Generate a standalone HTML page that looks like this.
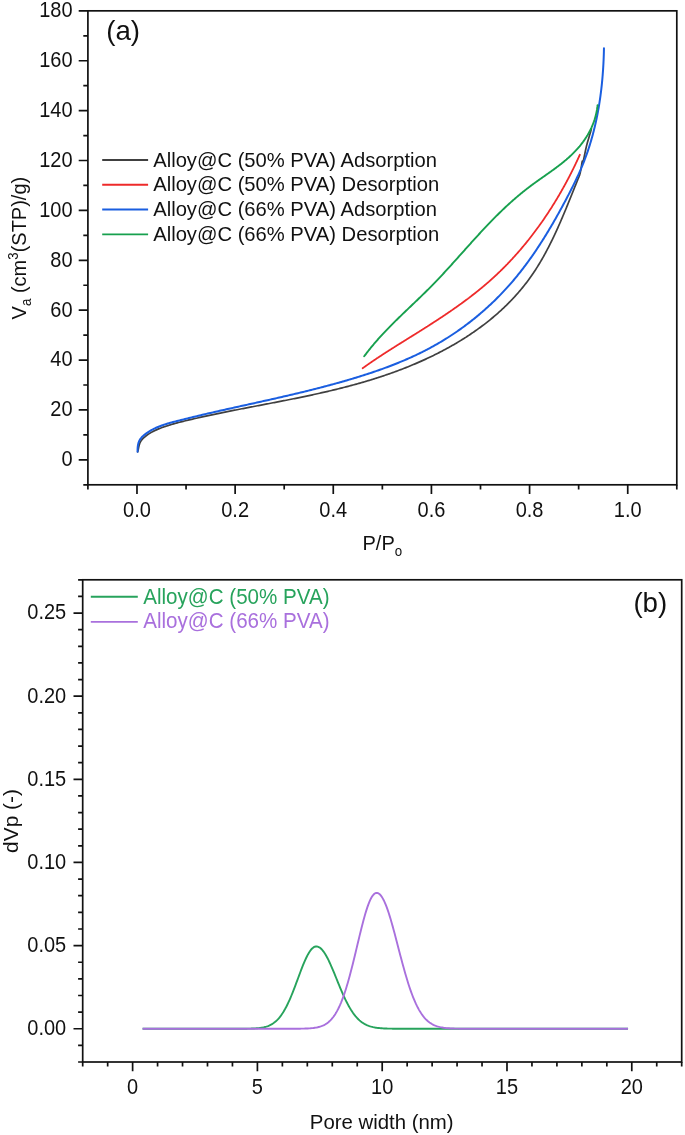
<!DOCTYPE html><html><head><meta charset="utf-8"><style>html,body{margin:0;padding:0;background:#fff;}svg{display:block;will-change:transform;}</style></head><body>
<svg width="685" height="1135" viewBox="0 0 685 1135" font-family='"Liberation Sans", sans-serif'>
<rect width="685" height="1135" fill="#fff"/>
<rect x="87.9" y="10.84" width="588.90" height="473.96" fill="none" stroke="#111" stroke-width="1.7"/>
<path d="M136.98,484.8 V494.00 M235.13,484.8 V494.00 M333.27,484.8 V494.00 M431.42,484.8 V494.00 M529.58,484.8 V494.00 M627.73,484.8 V494.00 M87.90,484.8 V489.40 M186.05,484.8 V489.40 M284.20,484.8 V489.40 M382.35,484.8 V489.40 M480.50,484.8 V489.40 M578.65,484.8 V489.40 M676.80,484.8 V489.40 M87.9,459.85 H78.70 M87.9,409.96 H78.70 M87.9,360.07 H78.70 M87.9,310.18 H78.70 M87.9,260.29 H78.70 M87.9,210.40 H78.70 M87.9,160.51 H78.70 M87.9,110.62 H78.70 M87.9,60.73 H78.70 M87.9,10.84 H78.70 M87.9,484.80 H83.30 M87.9,434.91 H83.30 M87.9,385.02 H83.30 M87.9,335.13 H83.30 M87.9,285.24 H83.30 M87.9,235.35 H83.30 M87.9,185.46 H83.30 M87.9,135.57 H83.30 M87.9,85.68 H83.30 M87.9,35.79 H83.30" stroke="#111" stroke-width="1.7" fill="none"/>
<text transform="translate(136.98,516.60) scale(1,1.07)" font-size="20" text-anchor="middle" fill="#111">0.0</text>
<text transform="translate(235.13,516.60) scale(1,1.07)" font-size="20" text-anchor="middle" fill="#111">0.2</text>
<text transform="translate(333.27,516.60) scale(1,1.07)" font-size="20" text-anchor="middle" fill="#111">0.4</text>
<text transform="translate(431.42,516.60) scale(1,1.07)" font-size="20" text-anchor="middle" fill="#111">0.6</text>
<text transform="translate(529.58,516.60) scale(1,1.07)" font-size="20" text-anchor="middle" fill="#111">0.8</text>
<text transform="translate(627.73,516.60) scale(1,1.07)" font-size="20" text-anchor="middle" fill="#111">1.0</text>
<text transform="translate(72.60,466.25) scale(1,1.07)" font-size="20" text-anchor="end" fill="#111">0</text>
<text transform="translate(72.60,416.36) scale(1,1.07)" font-size="20" text-anchor="end" fill="#111">20</text>
<text transform="translate(72.60,366.47) scale(1,1.07)" font-size="20" text-anchor="end" fill="#111">40</text>
<text transform="translate(72.60,316.58) scale(1,1.07)" font-size="20" text-anchor="end" fill="#111">60</text>
<text transform="translate(72.60,266.69) scale(1,1.07)" font-size="20" text-anchor="end" fill="#111">80</text>
<text transform="translate(72.60,216.80) scale(1,1.07)" font-size="20" text-anchor="end" fill="#111">100</text>
<text transform="translate(72.60,166.91) scale(1,1.07)" font-size="20" text-anchor="end" fill="#111">120</text>
<text transform="translate(72.60,117.02) scale(1,1.07)" font-size="20" text-anchor="end" fill="#111">140</text>
<text transform="translate(72.60,67.13) scale(1,1.07)" font-size="20" text-anchor="end" fill="#111">160</text>
<text transform="translate(72.60,17.24) scale(1,1.07)" font-size="20" text-anchor="end" fill="#111">180</text>
<path d="M137.69,451.79 L138.00,450.65 L138.26,449.47 L138.50,448.25 L138.74,447.03 L139.01,445.81 L139.32,444.61 L139.71,443.44 L140.19,442.33 L140.78,441.27 L141.47,440.28 L142.24,439.34 L143.08,438.45 L143.97,437.60 L144.90,436.79 L145.86,436.01 L146.83,435.27 L147.83,434.56 L148.84,433.88 L149.87,433.23 L150.92,432.61 L151.98,432.01 L153.06,431.43 L154.15,430.88 L155.25,430.35 L156.36,429.85 L157.49,429.36 L158.62,428.89 L159.76,428.43 L160.91,428.00 L162.06,427.57 L163.22,427.16 L164.38,426.76 L165.55,426.37 L166.72,425.99 L167.89,425.61 L169.06,425.24 L170.23,424.89 L171.41,424.53 L172.59,424.19 L173.76,423.85 L174.94,423.52 L176.13,423.19 L177.31,422.87 L178.49,422.55 L179.67,422.24 L180.86,421.93 L182.05,421.63 L183.23,421.33 L184.42,421.04 L185.61,420.75 L186.80,420.46 L187.99,420.17 L189.18,419.89 L190.37,419.61 L191.56,419.33 L192.75,419.05 L193.94,418.78 L195.14,418.51 L196.33,418.23 L197.52,417.96 L198.72,417.69 L199.91,417.43 L201.10,417.16 L202.30,416.90 L203.49,416.63 L204.69,416.37 L205.88,416.11 L207.08,415.85 L208.27,415.59 L209.47,415.34 L210.66,415.08 L211.86,414.83 L213.06,414.58 L214.25,414.32 L215.45,414.07 L216.65,413.82 L217.84,413.58 L219.04,413.33 L220.24,413.08 L221.44,412.84 L222.63,412.59 L223.83,412.35 L225.03,412.11 L226.23,411.87 L227.43,411.62 L228.63,411.38 L229.83,411.15 L231.02,410.91 L232.22,410.67 L233.42,410.43 L234.62,410.20 L235.82,409.96 L237.02,409.72 L238.22,409.49 L239.42,409.26 L240.62,409.02 L241.82,408.79 L243.02,408.56 L244.22,408.32 L245.42,408.09 L246.62,407.86 L247.82,407.63 L249.02,407.40 L250.22,407.17 L251.42,406.94 L252.62,406.71 L253.83,406.48 L255.03,406.25 L256.23,406.02 L257.43,405.79 L258.63,405.56 L259.83,405.33 L261.03,405.10 L262.23,404.87 L263.43,404.64 L264.63,404.41 L265.83,404.18 L267.03,403.95 L268.23,403.72 L269.43,403.49 L270.63,403.26 L271.83,403.03 L273.03,402.79 L274.23,402.56 L275.43,402.33 L276.63,402.10 L277.83,401.87 L279.03,401.63 L280.23,401.40 L281.43,401.16 L282.63,400.93 L283.82,400.69 L285.02,400.46 L286.22,400.22 L287.42,399.98 L288.62,399.75 L289.82,399.51 L291.01,399.27 L292.21,399.03 L293.41,398.79 L294.61,398.55 L295.80,398.30 L297.00,398.06 L298.20,397.81 L299.39,397.57 L300.59,397.32 L301.79,397.08 L302.98,396.83 L304.18,396.58 L305.37,396.33 L306.57,396.07 L307.76,395.82 L308.96,395.57 L310.15,395.31 L311.34,395.06 L312.54,394.80 L313.73,394.54 L314.92,394.28 L316.12,394.02 L317.31,393.75 L318.50,393.49 L319.69,393.22 L320.88,392.95 L322.07,392.68 L323.26,392.41 L324.45,392.14 L325.64,391.87 L326.83,391.59 L328.02,391.31 L329.21,391.04 L330.40,390.76 L331.59,390.47 L332.78,390.19 L333.96,389.90 L335.15,389.61 L336.34,389.32 L337.52,389.03 L338.71,388.74 L339.89,388.44 L341.08,388.15 L342.26,387.85 L343.44,387.54 L344.63,387.24 L345.81,386.94 L346.99,386.63 L348.17,386.32 L349.35,386.00 L350.54,385.69 L351.72,385.37 L352.89,385.05 L354.07,384.73 L355.25,384.41 L356.43,384.08 L357.61,383.75 L358.79,383.42 L359.96,383.09 L361.14,382.75 L362.31,382.41 L363.49,382.07 L364.66,381.73 L365.84,381.38 L367.01,381.03 L368.18,380.68 L369.35,380.33 L370.52,379.97 L371.69,379.61 L372.86,379.25 L374.03,378.88 L375.20,378.51 L376.37,378.14 L377.54,377.77 L378.70,377.39 L379.87,377.01 L381.04,376.63 L382.20,376.24 L383.36,375.85 L384.53,375.46 L385.69,375.06 L386.85,374.67 L388.01,374.26 L389.17,373.86 L390.33,373.45 L391.49,373.04 L392.65,372.62 L393.81,372.21 L394.97,371.78 L396.12,371.36 L397.28,370.93 L398.43,370.50 L399.58,370.07 L400.74,369.63 L401.89,369.19 L403.04,368.74 L404.19,368.29 L405.33,367.84 L406.48,367.38 L407.63,366.93 L408.77,366.46 L409.91,366.00 L411.06,365.53 L412.20,365.06 L413.33,364.58 L414.47,364.10 L415.61,363.62 L416.74,363.13 L417.88,362.64 L419.01,362.15 L420.14,361.65 L421.27,361.15 L422.39,360.64 L423.52,360.13 L424.64,359.62 L425.76,359.11 L426.88,358.59 L428.00,358.06 L429.11,357.54 L430.23,357.01 L431.34,356.47 L432.45,355.94 L433.56,355.40 L434.66,354.85 L435.77,354.30 L436.87,353.75 L437.97,353.19 L439.07,352.63 L440.16,352.07 L441.26,351.50 L442.35,350.93 L443.43,350.35 L444.52,349.77 L445.60,349.19 L446.69,348.60 L447.76,348.01 L448.84,347.42 L449.91,346.82 L450.98,346.22 L452.05,345.61 L453.12,345.00 L454.18,344.39 L455.24,343.77 L456.30,343.15 L457.35,342.52 L458.41,341.89 L459.45,341.26 L460.50,340.62 L461.54,339.98 L462.58,339.33 L463.62,338.68 L464.65,338.02 L465.69,337.37 L466.71,336.70 L467.74,336.04 L468.76,335.37 L469.78,334.69 L470.79,334.01 L471.81,333.33 L472.81,332.64 L473.82,331.95 L474.82,331.26 L475.82,330.56 L476.81,329.85 L477.81,329.14 L478.79,328.43 L479.78,327.71 L480.76,326.99 L481.73,326.27 L482.71,325.54 L483.68,324.81 L484.64,324.07 L485.61,323.32 L486.56,322.58 L487.52,321.83 L488.47,321.07 L489.42,320.31 L490.36,319.55 L491.30,318.78 L492.23,318.01 L493.16,317.23 L494.09,316.45 L495.01,315.66 L495.93,314.87 L496.84,314.08 L497.75,313.28 L498.66,312.47 L499.56,311.66 L500.45,310.85 L501.35,310.03 L502.23,309.21 L503.12,308.39 L504.00,307.56 L504.87,306.72 L505.74,305.88 L506.61,305.04 L507.47,304.19 L508.32,303.33 L509.17,302.47 L510.02,301.61 L510.86,300.74 L511.70,299.87 L512.53,298.99 L513.36,298.11 L514.18,297.23 L515.00,296.33 L515.81,295.44 L516.62,294.54 L517.42,293.63 L518.21,292.72 L519.01,291.81 L519.79,290.89 L520.57,289.96 L521.35,289.04 L522.12,288.10 L522.89,287.16 L523.65,286.22 L524.40,285.27 L525.15,284.32 L525.90,283.36 L526.64,282.40 L527.37,281.43 L528.10,280.46 L528.82,279.48 L529.53,278.50 L530.24,277.51 L530.95,276.52 L531.65,275.52 L532.34,274.52 L533.03,273.51 L533.71,272.50 L534.39,271.48 L535.06,270.46 L535.73,269.44 L536.39,268.41 L537.04,267.37 L537.69,266.33 L538.34,265.29 L538.98,264.24 L539.61,263.19 L540.25,262.14 L540.87,261.08 L541.49,260.02 L542.11,258.96 L542.72,257.89 L543.33,256.82 L543.93,255.74 L544.53,254.66 L545.12,253.58 L545.71,252.49 L546.29,251.41 L546.87,250.32 L547.45,249.22 L548.02,248.13 L548.59,247.03 L549.16,245.93 L549.72,244.82 L550.27,243.72 L550.83,242.61 L551.38,241.50 L551.92,240.38 L552.46,239.27 L553.00,238.15 L553.54,237.03 L554.07,235.91 L554.60,234.79 L555.12,233.67 L555.65,232.54 L556.17,231.42 L556.68,230.29 L557.19,229.16 L557.71,228.03 L558.21,226.90 L558.72,225.76 L559.22,224.63 L559.72,223.50 L560.22,222.36 L560.71,221.23 L561.20,220.09 L561.69,218.95 L562.18,217.82 L562.66,216.68 L563.14,215.54 L563.63,214.40 L564.10,213.27 L564.58,212.13 L565.05,210.99 L565.53,209.85 L566.00,208.72 L566.47,207.58 L566.93,206.44 L567.40,205.31 L567.86,204.17 L568.33,203.04 L568.79,201.90 L569.25,200.77 L569.71,199.64 L570.16,198.51 L570.62,197.38 L571.07,196.25 L571.53,195.12 L571.98,194.00 L572.43,192.88 L572.89,191.75 L573.34,190.63 L573.79,189.51 L574.24,188.40 L574.68,187.28 L575.13,186.17 L575.58,185.06 L576.03,183.95 L576.47,182.84 L576.92,181.74 L577.37,180.64 L577.81,179.54 L578.26,178.44 L578.71,177.35 L579.15,176.26 L579.59,175.09 L579.99,173.71 L580.36,172.18 L580.70,170.54 L581.01,168.86 L581.29,167.20 L581.54,165.63 L581.75,164.19 L581.94,162.95 L582.10,161.97 L582.24,161.31 L582.34,161.02 L582.42,161.18 L582.48,161.76 L582.55,162.38 L582.66,162.64 L582.83,162.46 L583.04,161.89 L583.28,160.99 L583.56,159.82 L583.86,158.44 L584.18,156.89 L584.52,155.24 L584.86,153.55 L585.20,151.87 L585.54,150.26 L585.87,148.76 L586.19,147.37 L586.51,146.06 L586.81,144.84 L587.12,143.68 L587.42,142.58 L587.72,141.51 L588.02,140.48 L588.32,139.46 L588.63,138.44 L588.94,137.41 L589.26,136.36 L589.58,135.27 L589.92,134.13 L590.27,132.93 L590.63,131.66 L591.01,130.29 L591.40,128.83" stroke="#404040" stroke-width="1.7" fill="none" stroke-linejoin="round" stroke-linecap="round"/>
<path d="M362.69,368.21 L363.19,367.85 L363.69,367.49 L364.19,367.13 L364.69,366.77 L365.19,366.41 L365.70,366.05 L366.20,365.70 L366.70,365.34 L367.21,364.99 L367.71,364.63 L368.22,364.28 L368.73,363.92 L369.23,363.57 L369.74,363.22 L370.25,362.87 L370.76,362.52 L371.27,362.17 L371.78,361.82 L372.29,361.47 L372.80,361.12 L373.31,360.78 L373.82,360.43 L374.34,360.08 L374.85,359.74 L375.36,359.39 L375.88,359.05 L376.39,358.70 L376.91,358.36 L377.42,358.02 L377.94,357.68 L378.45,357.33 L378.97,356.99 L379.49,356.65 L380.00,356.31 L380.52,355.97 L381.04,355.63 L381.56,355.29 L382.08,354.95 L382.60,354.61 L383.12,354.28 L383.64,353.94 L384.16,353.60 L384.68,353.26 L385.20,352.93 L385.72,352.59 L386.24,352.26 L386.77,351.92 L387.29,351.59 L387.81,351.25 L388.33,350.92 L388.86,350.58 L389.38,350.25 L389.90,349.91 L390.43,349.58 L390.95,349.25 L391.48,348.92 L392.00,348.58 L392.53,348.25 L393.05,347.92 L393.58,347.59 L394.11,347.26 L394.63,346.92 L395.16,346.59 L395.69,346.26 L396.21,345.93 L396.74,345.60 L397.27,345.27 L397.79,344.94 L398.32,344.61 L398.85,344.28 L399.38,343.95 L399.90,343.62 L400.43,343.29 L400.96,342.96 L401.49,342.63 L402.02,342.30 L402.55,341.97 L403.07,341.64 L403.60,341.31 L404.13,340.98 L404.66,340.65 L405.19,340.32 L405.72,339.99 L406.25,339.66 L406.78,339.33 L407.31,339.01 L407.84,338.68 L408.36,338.35 L408.89,338.02 L409.42,337.69 L409.95,337.36 L410.48,337.03 L411.01,336.70 L411.54,336.37 L412.07,336.04 L412.60,335.71 L413.13,335.38 L413.66,335.05 L414.19,334.72 L414.72,334.39 L415.24,334.06 L415.77,333.72 L416.30,333.39 L416.83,333.06 L417.36,332.73 L417.89,332.40 L418.42,332.07 L418.95,331.74 L419.47,331.40 L420.00,331.07 L420.53,330.74 L421.06,330.41 L421.59,330.07 L422.11,329.74 L422.64,329.41 L423.17,329.07 L423.70,328.74 L424.22,328.41 L424.75,328.07 L425.28,327.74 L425.81,327.40 L426.33,327.07 L426.86,326.73 L427.39,326.40 L427.91,326.06 L428.44,325.73 L428.96,325.39 L429.49,325.05 L430.01,324.72 L430.54,324.38 L431.06,324.04 L431.59,323.70 L432.11,323.37 L432.64,323.03 L433.16,322.69 L433.69,322.35 L434.21,322.01 L434.73,321.67 L435.26,321.33 L435.78,320.99 L436.30,320.65 L436.82,320.31 L437.35,319.97 L437.87,319.63 L438.39,319.28 L438.91,318.94 L439.43,318.60 L439.95,318.25 L440.47,317.91 L440.99,317.57 L441.51,317.22 L442.03,316.88 L442.55,316.53 L443.07,316.19 L443.59,315.84 L444.11,315.49 L444.63,315.15 L445.14,314.80 L445.66,314.45 L446.18,314.10 L446.69,313.75 L447.21,313.40 L447.73,313.05 L448.24,312.70 L448.76,312.35 L449.27,312.00 L449.78,311.65 L450.30,311.30 L450.81,310.94 L451.32,310.59 L451.84,310.24 L452.35,309.88 L452.86,309.53 L453.37,309.17 L453.88,308.82 L454.39,308.46 L454.90,308.10 L455.41,307.74 L455.92,307.39 L456.43,307.03 L456.94,306.67 L457.45,306.31 L457.95,305.95 L458.46,305.59 L458.96,305.22 L459.47,304.86 L459.98,304.50 L460.48,304.14 L460.98,303.77 L461.49,303.41 L461.99,303.04 L462.49,302.68 L463.00,302.31 L463.50,301.94 L464.00,301.57 L464.50,301.20 L465.00,300.84 L465.50,300.47 L466.00,300.09 L466.49,299.72 L466.99,299.35 L467.49,298.98 L467.99,298.61 L468.48,298.23 L468.98,297.86 L469.47,297.48 L469.97,297.10 L470.46,296.73 L470.95,296.35 L471.44,295.97 L471.94,295.59 L472.43,295.21 L472.92,294.83 L473.41,294.45 L473.90,294.07 L474.38,293.69 L474.87,293.30 L475.36,292.92 L475.85,292.53 L476.33,292.15 L476.82,291.76 L477.30,291.37 L477.78,290.98 L478.27,290.59 L478.75,290.20 L479.23,289.81 L479.71,289.42 L480.19,289.03 L480.67,288.64 L481.15,288.24 L481.63,287.85 L482.11,287.45 L482.58,287.05 L483.06,286.66 L483.53,286.26 L484.01,285.86 L484.48,285.46 L484.95,285.06 L485.43,284.65 L485.90,284.25 L486.37,283.85 L486.84,283.44 L487.31,283.04 L487.77,282.63 L488.24,282.22 L488.71,281.82 L489.17,281.41 L489.64,281.00 L490.10,280.58 L490.57,280.17 L491.03,279.76 L491.49,279.34 L491.95,278.93 L492.41,278.51 L492.87,278.10 L493.33,277.68 L493.78,277.26 L494.24,276.84 L494.70,276.42 L495.15,276.00 L495.61,275.57 L496.06,275.15 L496.51,274.73 L496.96,274.30 L497.41,273.87 L497.86,273.45 L498.31,273.02 L498.76,272.59 L499.21,272.16 L499.65,271.73 L500.10,271.30 L500.54,270.86 L500.99,270.43 L501.43,270.00 L501.87,269.56 L502.32,269.12 L502.76,268.69 L503.20,268.25 L503.63,267.81 L504.07,267.37 L504.51,266.93 L504.95,266.49 L505.38,266.04 L505.82,265.60 L506.25,265.16 L506.68,264.71 L507.12,264.27 L507.55,263.82 L507.98,263.37 L508.41,262.92 L508.84,262.47 L509.26,262.02 L509.69,261.57 L510.12,261.12 L510.54,260.67 L510.97,260.21 L511.39,259.76 L511.81,259.30 L512.24,258.85 L512.66,258.39 L513.08,257.93 L513.50,257.47 L513.92,257.01 L514.34,256.55 L514.75,256.09 L515.17,255.63 L515.58,255.17 L516.00,254.70 L516.41,254.24 L516.83,253.77 L517.24,253.31 L517.65,252.84 L518.06,252.37 L518.47,251.91 L518.88,251.44 L519.29,250.97 L519.69,250.50 L520.10,250.03 L520.50,249.55 L520.91,249.08 L521.31,248.61 L521.72,248.13 L522.12,247.66 L522.52,247.18 L522.92,246.70 L523.32,246.23 L523.72,245.75 L524.12,245.27 L524.51,244.79 L524.91,244.31 L525.30,243.83 L525.70,243.35 L526.09,242.86 L526.48,242.38 L526.88,241.90 L527.27,241.41 L527.66,240.93 L528.05,240.44 L528.44,239.95 L528.82,239.46 L529.21,238.98 L529.60,238.49 L529.98,238.00 L530.37,237.51 L530.75,237.02 L531.13,236.52 L531.52,236.03 L531.90,235.54 L532.28,235.04 L532.66,234.55 L533.03,234.05 L533.41,233.56 L533.79,233.06 L534.17,232.56 L534.54,232.06 L534.91,231.57 L535.29,231.07 L535.66,230.57 L536.03,230.07 L536.40,229.56 L536.77,229.06 L537.14,228.56 L537.51,228.06 L537.88,227.55 L538.25,227.05 L538.61,226.54 L538.98,226.04 L539.34,225.53 L539.71,225.02 L540.07,224.52 L540.43,224.01 L540.79,223.50 L541.15,222.99 L541.51,222.48 L541.87,221.97 L542.23,221.46 L542.58,220.94 L542.94,220.43 L543.29,219.92 L543.65,219.40 L544.00,218.89 L544.35,218.37 L544.71,217.86 L545.06,217.34 L545.41,216.83 L545.76,216.31 L546.11,215.79 L546.45,215.27 L546.80,214.75 L547.15,214.23 L547.49,213.71 L547.83,213.19 L548.18,212.67 L548.52,212.15 L548.86,211.63 L549.20,211.10 L549.54,210.58 L549.88,210.05 L550.22,209.53 L550.56,209.00 L550.89,208.48 L551.23,207.95 L551.57,207.43 L551.90,206.90 L552.23,206.37 L552.57,205.84 L552.90,205.31 L553.23,204.78 L553.56,204.25 L553.89,203.72 L554.21,203.19 L554.54,202.66 L554.87,202.13 L555.19,201.60 L555.52,201.06 L555.84,200.53 L556.17,200.00 L556.49,199.46 L556.81,198.93 L557.13,198.39 L557.45,197.85 L557.77,197.32 L558.09,196.78 L558.41,196.24 L558.72,195.71 L559.04,195.17 L559.35,194.63 L559.67,194.09 L559.98,193.55 L560.29,193.01 L560.60,192.47 L560.91,191.93 L561.22,191.39 L561.53,190.84 L561.84,190.30 L562.15,189.76 L562.46,189.22 L562.76,188.67 L563.07,188.13 L563.37,187.58 L563.67,187.04 L563.98,186.49 L564.28,185.95 L564.58,185.40 L564.88,184.86 L565.18,184.31 L565.47,183.76 L565.77,183.21 L566.07,182.66 L566.36,182.12 L566.66,181.57 L566.95,181.02 L567.24,180.47 L567.54,179.92 L567.83,179.37 L568.12,178.82 L568.41,178.26 L568.70,177.71 L568.99,177.16 L569.27,176.61 L569.56,176.06 L569.84,175.50 L570.13,174.95 L570.41,174.39 L570.70,173.84 L570.98,173.29 L571.26,172.73 L571.54,172.18 L571.82,171.62 L572.10,171.06 L572.38,170.51 L572.65,169.95 L572.93,169.39 L573.20,168.84 L573.48,168.28 L573.75,167.72 L574.03,167.16 L574.30,166.60 L574.57,166.04 L574.84,165.49 L575.11,164.93 L575.38,164.37 L575.65,163.81 L575.91,163.24 L576.18,162.68 L576.44,162.12 L576.71,161.56 L576.97,161.00 L577.23,160.44 L577.50,159.88 L577.76,159.31 L578.02,158.75 L578.28,158.19 L578.54,157.62 L578.79,157.06 L579.05,156.50 L579.31,155.93 L579.56,155.37 L579.82,154.80" stroke="#ee2a2a" stroke-width="1.8" fill="none" stroke-linejoin="round" stroke-linecap="round"/>
<path d="M137.57,451.65 L137.57,450.26 L137.60,448.85 L137.68,447.45 L137.83,446.06 L138.04,444.70 L138.35,443.36 L138.75,442.07 L139.27,440.84 L139.91,439.68 L140.67,438.58 L141.53,437.54 L142.47,436.56 L143.48,435.64 L144.54,434.76 L145.62,433.91 L146.73,433.11 L147.85,432.33 L148.99,431.59 L150.14,430.89 L151.31,430.21 L152.50,429.56 L153.70,428.94 L154.91,428.35 L156.14,427.78 L157.38,427.23 L158.63,426.71 L159.89,426.21 L161.16,425.73 L162.45,425.27 L163.73,424.82 L165.03,424.40 L166.34,423.98 L167.65,423.58 L168.96,423.19 L170.29,422.82 L171.61,422.45 L172.94,422.09 L174.27,421.73 L175.61,421.39 L176.94,421.04 L178.28,420.70 L179.61,420.36 L180.95,420.03 L182.28,419.69 L183.62,419.36 L184.95,419.03 L186.29,418.70 L187.62,418.37 L188.96,418.04 L190.29,417.71 L191.63,417.39 L192.96,417.07 L194.30,416.74 L195.63,416.42 L196.97,416.11 L198.30,415.79 L199.63,415.47 L200.97,415.16 L202.30,414.84 L203.63,414.53 L204.97,414.22 L206.30,413.90 L207.63,413.59 L208.97,413.29 L210.30,412.98 L211.63,412.67 L212.97,412.36 L214.30,412.06 L215.63,411.76 L216.96,411.45 L218.30,411.15 L219.63,410.85 L220.96,410.55 L222.29,410.25 L223.62,409.95 L224.95,409.65 L226.29,409.35 L227.62,409.05 L228.95,408.75 L230.28,408.45 L231.61,408.16 L232.94,407.86 L234.27,407.57 L235.60,407.27 L236.93,406.97 L238.26,406.68 L239.59,406.38 L240.92,406.09 L242.25,405.80 L243.58,405.50 L244.91,405.21 L246.24,404.91 L247.57,404.62 L248.89,404.33 L250.22,404.03 L251.55,403.74 L252.88,403.45 L254.21,403.15 L255.54,402.86 L256.86,402.56 L258.19,402.27 L259.52,401.97 L260.84,401.68 L262.17,401.38 L263.50,401.09 L264.82,400.79 L266.15,400.50 L267.48,400.20 L268.80,399.90 L270.13,399.61 L271.45,399.31 L272.78,399.01 L274.10,398.71 L275.43,398.41 L276.75,398.11 L278.08,397.81 L279.40,397.51 L280.73,397.20 L282.05,396.90 L283.37,396.60 L284.70,396.29 L286.02,395.99 L287.34,395.68 L288.67,395.37 L289.99,395.06 L291.31,394.75 L292.63,394.44 L293.96,394.13 L295.28,393.82 L296.60,393.50 L297.92,393.19 L299.24,392.87 L300.56,392.56 L301.88,392.24 L303.20,391.92 L304.52,391.60 L305.84,391.27 L307.16,390.95 L308.48,390.62 L309.80,390.30 L311.12,389.97 L312.44,389.64 L313.76,389.31 L315.07,388.97 L316.39,388.64 L317.71,388.30 L319.03,387.96 L320.34,387.62 L321.66,387.28 L322.98,386.94 L324.29,386.59 L325.61,386.25 L326.93,385.90 L328.24,385.55 L329.56,385.19 L330.87,384.84 L332.19,384.48 L333.50,384.12 L334.82,383.76 L336.13,383.40 L337.44,383.04 L338.76,382.67 L340.07,382.30 L341.38,381.93 L342.70,381.55 L344.01,381.18 L345.32,380.80 L346.63,380.42 L347.94,380.04 L349.25,379.65 L350.57,379.26 L351.88,378.87 L353.19,378.48 L354.50,378.08 L355.81,377.68 L357.12,377.28 L358.42,376.88 L359.73,376.47 L361.04,376.06 L362.35,375.65 L363.65,375.24 L364.96,374.82 L366.26,374.40 L367.57,373.97 L368.87,373.55 L370.17,373.11 L371.47,372.68 L372.77,372.24 L374.07,371.80 L375.37,371.36 L376.66,370.91 L377.96,370.46 L379.25,370.00 L380.55,369.55 L381.84,369.08 L383.13,368.62 L384.42,368.15 L385.70,367.68 L386.99,367.20 L388.27,366.72 L389.56,366.23 L390.84,365.74 L392.12,365.25 L393.39,364.75 L394.67,364.25 L395.94,363.74 L397.22,363.23 L398.49,362.72 L399.75,362.20 L401.02,361.68 L402.28,361.15 L403.55,360.62 L404.80,360.08 L406.06,359.54 L407.32,358.99 L408.57,358.44 L409.82,357.88 L411.07,357.32 L412.31,356.75 L413.56,356.18 L414.80,355.61 L416.03,355.03 L417.27,354.44 L418.50,353.85 L419.73,353.25 L420.96,352.65 L422.18,352.04 L423.41,351.43 L424.62,350.81 L425.84,350.19 L427.05,349.56 L428.26,348.92 L429.47,348.28 L430.67,347.63 L431.87,346.98 L433.07,346.32 L434.26,345.66 L435.45,344.99 L436.64,344.31 L437.82,343.63 L439.00,342.95 L440.18,342.25 L441.35,341.56 L442.52,340.85 L443.69,340.14 L444.85,339.43 L446.01,338.71 L447.17,337.98 L448.32,337.25 L449.47,336.52 L450.62,335.77 L451.76,335.03 L452.90,334.27 L454.03,333.51 L455.17,332.75 L456.29,331.98 L457.42,331.21 L458.54,330.43 L459.65,329.64 L460.77,328.85 L461.88,328.06 L462.98,327.25 L464.08,326.45 L465.18,325.64 L466.27,324.82 L467.36,324.00 L468.45,323.17 L469.53,322.34 L470.61,321.50 L471.68,320.66 L472.75,319.82 L473.82,318.96 L474.88,318.11 L475.94,317.24 L476.99,316.38 L478.04,315.51 L479.08,314.63 L480.13,313.75 L481.16,312.86 L482.20,311.97 L483.22,311.07 L484.25,310.17 L485.27,309.27 L486.28,308.36 L487.29,307.44 L488.30,306.52 L489.30,305.60 L490.30,304.67 L491.30,303.74 L492.29,302.80 L493.27,301.85 L494.25,300.91 L495.23,299.95 L496.20,299.00 L497.16,298.04 L498.13,297.07 L499.08,296.10 L500.04,295.13 L500.99,294.15 L501.93,293.16 L502.87,292.18 L503.80,291.18 L504.73,290.19 L505.66,289.19 L506.58,288.18 L507.49,287.17 L508.40,286.16 L509.31,285.14 L510.21,284.12 L511.10,283.09 L511.99,282.06 L512.88,281.03 L513.76,279.99 L514.64,278.94 L515.51,277.90 L516.38,276.85 L517.24,275.79 L518.09,274.73 L518.95,273.67 L519.80,272.61 L520.64,271.54 L521.48,270.46 L522.31,269.39 L523.14,268.31 L523.97,267.22 L524.79,266.13 L525.61,265.04 L526.42,263.95 L527.23,262.85 L528.04,261.75 L528.84,260.65 L529.63,259.54 L530.43,258.43 L531.22,257.32 L532.00,256.20 L532.78,255.08 L533.56,253.96 L534.33,252.83 L535.10,251.70 L535.87,250.57 L536.63,249.44 L537.39,248.30 L538.14,247.16 L538.89,246.02 L539.64,244.88 L540.38,243.73 L541.12,242.58 L541.86,241.43 L542.59,240.28 L543.32,239.12 L544.05,237.96 L544.77,236.80 L545.49,235.64 L546.21,234.47 L546.93,233.30 L547.64,232.13 L548.34,230.96 L549.05,229.79 L549.75,228.61 L550.45,227.44 L551.15,226.26 L551.84,225.08 L552.53,223.89 L553.22,222.71 L553.90,221.52 L554.58,220.33 L555.26,219.15 L555.94,217.95 L556.61,216.76 L557.28,215.57 L557.95,214.37 L558.62,213.18 L559.28,211.98 L559.95,210.78 L560.60,209.58 L561.26,208.38 L561.92,207.18 L562.57,205.98 L563.22,204.77 L563.87,203.57 L564.51,202.36 L565.16,201.16 L565.80,199.95 L566.44,198.74 L567.08,197.53 L567.71,196.32 L568.34,195.11 L568.97,193.90 L569.60,192.68 L570.22,191.47 L570.84,190.25 L571.46,189.04 L572.08,187.82 L572.69,186.60 L573.29,185.38 L573.89,184.16 L574.49,182.93 L575.09,181.70 L575.68,180.48 L576.26,179.25 L576.84,178.01 L577.41,176.78 L577.98,175.55 L578.55,174.31 L579.11,173.07 L579.66,171.82 L580.21,170.58 L580.75,169.33 L581.28,168.08 L581.81,166.83 L582.33,165.57 L582.85,164.32 L583.36,163.06 L583.86,161.79 L584.35,160.53 L584.84,159.26 L585.32,157.99 L585.79,156.71 L586.26,155.43 L586.72,154.15 L587.17,152.87 L587.61,151.58 L588.05,150.30 L588.48,149.01 L588.90,147.71 L589.32,146.42 L589.73,145.12 L590.13,143.82 L590.53,142.51 L590.92,141.21 L591.30,139.90 L591.68,138.59 L592.05,137.28 L592.41,135.96 L592.77,134.65 L593.12,133.33 L593.46,132.01 L593.80,130.69 L594.13,129.36 L594.45,128.04 L594.77,126.71 L595.08,125.38 L595.39,124.05 L595.69,122.72 L595.98,121.38 L596.27,120.05 L596.55,118.71 L596.83,117.37 L597.10,116.03 L597.36,114.69 L597.62,113.34 L597.87,112.00 L598.12,110.66 L598.36,109.31 L598.60,107.96 L598.83,106.61 L599.05,105.26 L599.27,103.91 L599.48,102.56 L599.69,101.21 L599.89,99.85 L600.09,98.50 L600.28,97.14 L600.46,95.79 L600.64,94.43 L600.82,93.07 L600.99,91.72 L601.16,90.36 L601.32,89.00 L601.47,87.64 L601.62,86.28 L601.77,84.92 L601.91,83.56 L602.04,82.20 L602.17,80.84 L602.30,79.48 L602.42,78.12 L602.53,76.76 L602.65,75.40 L602.75,74.04 L602.85,72.68 L602.95,71.32 L603.05,69.96 L603.13,68.60 L603.22,67.24 L603.30,65.88 L603.37,64.52 L603.45,63.16 L603.51,61.80 L603.58,60.44 L603.63,59.09 L603.69,57.73 L603.74,56.37 L603.79,55.02 L603.83,53.66 L603.87,52.31 L603.90,50.96 L603.93,49.60 L603.96,48.25" stroke="#1a5ee0" stroke-width="2.0" fill="none" stroke-linejoin="round" stroke-linecap="round"/>
<path d="M364.19,356.31 L364.61,355.74 L365.03,355.18 L365.45,354.62 L365.87,354.06 L366.29,353.50 L366.72,352.94 L367.14,352.39 L367.57,351.83 L368.00,351.28 L368.43,350.73 L368.87,350.18 L369.30,349.63 L369.74,349.09 L370.17,348.54 L370.61,348.00 L371.05,347.46 L371.50,346.92 L371.94,346.38 L372.38,345.84 L372.83,345.31 L373.28,344.77 L373.73,344.24 L374.18,343.71 L374.63,343.18 L375.08,342.65 L375.54,342.12 L375.99,341.59 L376.45,341.07 L376.91,340.55 L377.37,340.02 L377.83,339.50 L378.29,338.98 L378.75,338.46 L379.22,337.95 L379.68,337.43 L380.15,336.92 L380.62,336.40 L381.09,335.89 L381.56,335.38 L382.03,334.87 L382.50,334.36 L382.97,333.85 L383.45,333.34 L383.92,332.83 L384.40,332.33 L384.87,331.82 L385.35,331.32 L385.83,330.82 L386.31,330.32 L386.79,329.81 L387.27,329.31 L387.75,328.81 L388.24,328.32 L388.72,327.82 L389.21,327.32 L389.69,326.83 L390.18,326.33 L390.66,325.84 L391.15,325.34 L391.64,324.85 L392.13,324.36 L392.62,323.87 L393.11,323.37 L393.60,322.88 L394.09,322.39 L394.58,321.90 L395.08,321.42 L395.57,320.93 L396.06,320.44 L396.56,319.95 L397.05,319.47 L397.55,318.98 L398.05,318.50 L398.54,318.01 L399.04,317.53 L399.54,317.04 L400.03,316.56 L400.53,316.07 L401.03,315.59 L401.53,315.11 L402.03,314.63 L402.53,314.14 L403.03,313.66 L403.53,313.18 L404.03,312.70 L404.53,312.22 L405.03,311.74 L405.53,311.26 L406.03,310.78 L406.53,310.30 L407.04,309.82 L407.54,309.34 L408.04,308.86 L408.54,308.38 L409.04,307.90 L409.54,307.42 L410.05,306.94 L410.55,306.46 L411.05,305.98 L411.55,305.50 L412.06,305.02 L412.56,304.54 L413.06,304.06 L413.56,303.58 L414.06,303.10 L414.57,302.62 L415.07,302.14 L415.57,301.66 L416.07,301.18 L416.57,300.70 L417.07,300.22 L417.57,299.74 L418.08,299.26 L418.58,298.77 L419.08,298.29 L419.58,297.81 L420.08,297.33 L420.57,296.84 L421.07,296.36 L421.57,295.88 L422.07,295.39 L422.57,294.91 L423.07,294.42 L423.56,293.94 L424.06,293.45 L424.56,292.97 L425.05,292.48 L425.55,291.99 L426.04,291.50 L426.54,291.01 L427.03,290.53 L427.52,290.04 L428.01,289.55 L428.51,289.05 L429.00,288.56 L429.49,288.07 L429.98,287.58 L430.47,287.08 L430.96,286.59 L431.44,286.09 L431.93,285.60 L432.42,285.10 L432.90,284.60 L433.39,284.11 L433.87,283.61 L434.36,283.11 L434.84,282.61 L435.32,282.11 L435.81,281.61 L436.29,281.10 L436.77,280.60 L437.25,280.10 L437.73,279.60 L438.21,279.09 L438.69,278.59 L439.16,278.08 L439.64,277.57 L440.12,277.07 L440.59,276.56 L441.07,276.05 L441.55,275.55 L442.02,275.04 L442.50,274.53 L442.97,274.02 L443.44,273.51 L443.92,273.00 L444.39,272.49 L444.86,271.98 L445.33,271.46 L445.81,270.95 L446.28,270.44 L446.75,269.93 L447.22,269.41 L447.69,268.90 L448.16,268.39 L448.63,267.87 L449.10,267.36 L449.57,266.84 L450.03,266.33 L450.50,265.81 L450.97,265.30 L451.44,264.78 L451.91,264.26 L452.37,263.75 L452.84,263.23 L453.31,262.71 L453.77,262.20 L454.24,261.68 L454.71,261.16 L455.17,260.64 L455.64,260.12 L456.10,259.61 L456.57,259.09 L457.03,258.57 L457.50,258.05 L457.96,257.53 L458.43,257.01 L458.89,256.49 L459.36,255.98 L459.82,255.46 L460.29,254.94 L460.75,254.42 L461.22,253.90 L461.68,253.38 L462.15,252.86 L462.61,252.34 L463.07,251.82 L463.54,251.30 L464.00,250.78 L464.47,250.27 L464.93,249.75 L465.40,249.23 L465.86,248.71 L466.33,248.19 L466.79,247.67 L467.25,247.15 L467.72,246.63 L468.18,246.12 L468.65,245.60 L469.11,245.08 L469.58,244.56 L470.05,244.05 L470.51,243.53 L470.98,243.01 L471.44,242.49 L471.91,241.98 L472.38,241.46 L472.84,240.94 L473.31,240.43 L473.78,239.91 L474.24,239.40 L474.71,238.88 L475.18,238.37 L475.65,237.85 L476.11,237.34 L476.58,236.83 L477.05,236.31 L477.52,235.80 L477.99,235.29 L478.46,234.77 L478.93,234.26 L479.40,233.75 L479.87,233.24 L480.34,232.73 L480.81,232.22 L481.29,231.71 L481.76,231.20 L482.23,230.69 L482.70,230.18 L483.18,229.67 L483.65,229.17 L484.13,228.66 L484.60,228.15 L485.08,227.65 L485.55,227.14 L486.03,226.64 L486.51,226.13 L486.98,225.63 L487.46,225.13 L487.94,224.62 L488.42,224.12 L488.90,223.62 L489.38,223.12 L489.86,222.62 L490.34,222.12 L490.82,221.62 L491.31,221.13 L491.79,220.63 L492.27,220.13 L492.76,219.64 L493.24,219.14 L493.73,218.65 L494.21,218.16 L494.70,217.66 L495.19,217.17 L495.68,216.68 L496.17,216.19 L496.66,215.70 L497.15,215.21 L497.64,214.72 L498.13,214.24 L498.62,213.75 L499.12,213.27 L499.61,212.78 L500.11,212.30 L500.60,211.82 L501.10,211.34 L501.60,210.85 L502.10,210.38 L502.60,209.90 L503.10,209.42 L503.60,208.94 L504.10,208.47 L504.60,207.99 L505.11,207.52 L505.61,207.04 L506.12,206.57 L506.62,206.10 L507.13,205.63 L507.64,205.16 L508.15,204.69 L508.66,204.23 L509.17,203.76 L509.68,203.30 L510.19,202.83 L510.71,202.37 L511.22,201.91 L511.74,201.45 L512.26,200.99 L512.78,200.53 L513.29,200.07 L513.81,199.62 L514.34,199.16 L514.86,198.71 L515.38,198.25 L515.91,197.80 L516.43,197.35 L516.96,196.90 L517.49,196.45 L518.02,196.01 L518.55,195.56 L519.08,195.11 L519.61,194.67 L520.14,194.23 L520.68,193.79 L521.21,193.35 L521.75,192.91 L522.29,192.47 L522.83,192.03 L523.37,191.60 L523.91,191.16 L524.45,190.73 L525.00,190.30 L525.54,189.87 L526.09,189.44 L526.64,189.01 L527.19,188.58 L527.74,188.16 L528.29,187.73 L528.84,187.31 L529.40,186.89 L529.95,186.47 L530.51,186.05 L531.07,185.63 L531.63,185.21 L532.19,184.80 L532.75,184.38 L533.31,183.97 L533.88,183.56 L534.44,183.15 L535.01,182.74 L535.58,182.33 L536.15,181.92 L536.72,181.51 L537.28,181.11 L537.86,180.70 L538.43,180.29 L539.00,179.89 L539.57,179.48 L540.14,179.08 L540.71,178.68 L541.29,178.27 L541.86,177.87 L542.43,177.47 L543.01,177.06 L543.58,176.66 L544.16,176.26 L544.73,175.86 L545.30,175.45 L545.88,175.05 L546.45,174.65 L547.02,174.24 L547.60,173.84 L548.17,173.43 L548.74,173.03 L549.31,172.62 L549.88,172.22 L550.45,171.81 L551.02,171.40 L551.59,171.00 L552.16,170.59 L552.73,170.18 L553.29,169.77 L553.86,169.36 L554.42,168.94 L554.98,168.53 L555.55,168.12 L556.11,167.70 L556.67,167.28 L557.22,166.86 L557.78,166.44 L558.34,166.02 L558.89,165.60 L559.44,165.18 L559.99,164.75 L560.54,164.32 L561.09,163.89 L561.63,163.46 L562.18,163.03 L562.72,162.60 L563.26,162.16 L563.79,161.72 L564.33,161.28 L564.86,160.84 L565.39,160.39 L565.92,159.94 L566.45,159.50 L566.97,159.04 L567.49,158.59 L568.01,158.13 L568.53,157.67 L569.04,157.21 L569.55,156.75 L570.06,156.28 L570.57,155.81 L571.07,155.34 L571.57,154.86 L572.07,154.38 L572.56,153.90 L573.05,153.42 L573.54,152.93 L574.02,152.44 L574.50,151.95 L574.98,151.45 L575.46,150.95 L575.93,150.45 L576.39,149.94 L576.86,149.44 L577.32,148.93 L577.78,148.41 L578.23,147.90 L578.68,147.38 L579.12,146.85 L579.57,146.33 L580.00,145.80 L580.44,145.27 L580.87,144.73 L581.29,144.19 L581.72,143.65 L582.13,143.11 L582.55,142.56 L582.96,142.01 L583.36,141.46 L583.76,140.90 L584.16,140.34 L584.55,139.78 L584.94,139.21 L585.32,138.65 L585.70,138.07 L586.07,137.50 L586.44,136.92 L586.80,136.34 L587.16,135.75 L587.52,135.17 L587.87,134.57 L588.21,133.98 L588.55,133.38 L588.88,132.78 L589.21,132.18 L589.54,131.57 L589.86,130.96 L590.17,130.34 L590.48,129.73 L590.78,129.11 L591.08,128.48 L591.37,127.86 L591.65,127.22 L591.93,126.59 L592.21,125.95 L592.48,125.31 L592.74,124.67 L593.00,124.02 L593.25,123.37 L593.49,122.72 L593.73,122.06 L593.97,121.40 L594.19,120.73 L594.42,120.07 L594.63,119.39 L594.84,118.72 L595.04,118.04 L595.24,117.36 L595.43,116.68 L595.61,115.99 L595.79,115.29 L595.96,114.60 L596.12,113.90 L596.28,113.20 L596.43,112.49 L596.57,111.78 L596.71,111.07 L596.83,110.35 L596.96,109.63 L597.07,108.91 L597.18,108.18 L597.28,107.45 L597.38,106.71 L597.46,105.97 L597.54,105.23" stroke="#17a04e" stroke-width="1.9" fill="none" stroke-linejoin="round" stroke-linecap="round"/>
<line x1="102.2" x2="148.1" y1="160.00" y2="160.00" stroke="#404040" stroke-width="1.9"/>
<text transform="translate(153.20,166.70) scale(1,1.04)" font-size="20.2" text-anchor="start" fill="#111">Alloy@C (50% PVA) Adsorption</text>
<line x1="102.2" x2="148.1" y1="184.78" y2="184.78" stroke="#ee2a2a" stroke-width="1.9"/>
<text transform="translate(153.20,191.48) scale(1,1.04)" font-size="20.2" text-anchor="start" fill="#111">Alloy@C (50% PVA) Desorption</text>
<line x1="102.2" x2="148.1" y1="209.56" y2="209.56" stroke="#1a5ee0" stroke-width="1.9"/>
<text transform="translate(153.20,216.26) scale(1,1.04)" font-size="20.2" text-anchor="start" fill="#111">Alloy@C (66% PVA) Adsorption</text>
<line x1="102.2" x2="148.1" y1="234.34" y2="234.34" stroke="#17a04e" stroke-width="1.9"/>
<text transform="translate(153.20,241.04) scale(1,1.04)" font-size="20.2" text-anchor="start" fill="#111">Alloy@C (66% PVA) Desorption</text>
<text transform="translate(106.20,39.60) scale(1,1.03)" font-size="27.7" text-anchor="start" fill="#111">(a)</text>
<text transform="translate(362.50,550.10) scale(1,1.04)" font-size="20" text-anchor="start" fill="#111">P/P<tspan font-size="13.33" dy="5.2">o</tspan></text>
<text transform="translate(25.60,319.40) rotate(-90) scale(1,1.03)" font-size="20" text-anchor="start" fill="#111">V<tspan font-size="13.33" dy="5.6">a</tspan><tspan dy="-5.6"> (cm</tspan><tspan font-size="13.33" dy="-7.4">3</tspan><tspan dy="7.4">(STP)/g)</tspan></text>
<rect x="82.7" y="579.8" width="599.00" height="482.20" fill="none" stroke="#111" stroke-width="1.7"/>
<path d="M132.62,1062.0 V1071.20 M257.41,1062.0 V1071.20 M382.20,1062.0 V1071.20 M506.99,1062.0 V1071.20 M631.78,1062.0 V1071.20 M82.70,1062.0 V1066.60 M107.66,1062.0 V1066.60 M157.57,1062.0 V1066.60 M182.53,1062.0 V1066.60 M207.49,1062.0 V1066.60 M232.45,1062.0 V1066.60 M282.37,1062.0 V1066.60 M307.32,1062.0 V1066.60 M332.28,1062.0 V1066.60 M357.24,1062.0 V1066.60 M407.16,1062.0 V1066.60 M432.12,1062.0 V1066.60 M457.07,1062.0 V1066.60 M482.03,1062.0 V1066.60 M531.95,1062.0 V1066.60 M556.91,1062.0 V1066.60 M581.87,1062.0 V1066.60 M606.83,1062.0 V1066.60 M656.74,1062.0 V1066.60 M681.70,1062.0 V1066.60 M82.7,1028.74 H73.50 M82.7,945.61 H73.50 M82.7,862.47 H73.50 M82.7,779.33 H73.50 M82.7,696.19 H73.50 M82.7,613.06 H73.50 M82.7,1062.00 H78.10 M82.7,1045.37 H78.10 M82.7,1012.12 H78.10 M82.7,995.49 H78.10 M82.7,978.86 H78.10 M82.7,962.23 H78.10 M82.7,928.98 H78.10 M82.7,912.35 H78.10 M82.7,895.72 H78.10 M82.7,879.10 H78.10 M82.7,845.84 H78.10 M82.7,829.21 H78.10 M82.7,812.59 H78.10 M82.7,795.96 H78.10 M82.7,762.70 H78.10 M82.7,746.08 H78.10 M82.7,729.45 H78.10 M82.7,712.82 H78.10 M82.7,679.57 H78.10 M82.7,662.94 H78.10 M82.7,646.31 H78.10 M82.7,629.68 H78.10 M82.7,596.43 H78.10 M82.7,579.80 H78.10" stroke="#111" stroke-width="1.7" fill="none"/>
<text transform="translate(132.62,1094.20) scale(1,1.07)" font-size="20" text-anchor="middle" fill="#111">0</text>
<text transform="translate(257.41,1094.20) scale(1,1.07)" font-size="20" text-anchor="middle" fill="#111">5</text>
<text transform="translate(382.20,1094.20) scale(1,1.07)" font-size="20" text-anchor="middle" fill="#111">10</text>
<text transform="translate(506.99,1094.20) scale(1,1.07)" font-size="20" text-anchor="middle" fill="#111">15</text>
<text transform="translate(631.78,1094.20) scale(1,1.07)" font-size="20" text-anchor="middle" fill="#111">20</text>
<text transform="translate(66.20,1035.14) scale(1,1.07)" font-size="20" text-anchor="end" fill="#111">0.00</text>
<text transform="translate(66.20,952.01) scale(1,1.07)" font-size="20" text-anchor="end" fill="#111">0.05</text>
<text transform="translate(66.20,868.87) scale(1,1.07)" font-size="20" text-anchor="end" fill="#111">0.10</text>
<text transform="translate(66.20,785.73) scale(1,1.07)" font-size="20" text-anchor="end" fill="#111">0.15</text>
<text transform="translate(66.20,702.59) scale(1,1.07)" font-size="20" text-anchor="end" fill="#111">0.20</text>
<text transform="translate(66.20,619.46) scale(1,1.07)" font-size="20" text-anchor="end" fill="#111">0.25</text>
<path d="M142.60,1028.74 L143.57,1028.74 L144.55,1028.74 L145.52,1028.74 L146.49,1028.74 L147.46,1028.74 L148.44,1028.74 L149.41,1028.74 L150.38,1028.74 L151.36,1028.74 L152.33,1028.74 L153.30,1028.74 L154.27,1028.74 L155.25,1028.74 L156.22,1028.74 L157.19,1028.74 L158.17,1028.74 L159.14,1028.74 L160.11,1028.74 L161.08,1028.74 L162.06,1028.74 L163.03,1028.74 L164.00,1028.74 L164.97,1028.74 L165.95,1028.74 L166.92,1028.74 L167.89,1028.74 L168.87,1028.74 L169.84,1028.74 L170.81,1028.74 L171.78,1028.74 L172.76,1028.74 L173.73,1028.74 L174.70,1028.74 L175.68,1028.74 L176.65,1028.74 L177.62,1028.74 L178.59,1028.74 L179.57,1028.74 L180.54,1028.74 L181.51,1028.74 L182.49,1028.74 L183.46,1028.74 L184.43,1028.74 L185.40,1028.74 L186.38,1028.74 L187.35,1028.74 L188.32,1028.74 L189.30,1028.74 L190.27,1028.74 L191.24,1028.74 L192.21,1028.74 L193.19,1028.74 L194.16,1028.74 L195.13,1028.74 L196.11,1028.74 L197.08,1028.74 L198.05,1028.74 L199.02,1028.74 L200.00,1028.74 L200.97,1028.74 L201.94,1028.74 L202.92,1028.74 L203.89,1028.74 L204.86,1028.74 L205.83,1028.74 L206.81,1028.74 L207.78,1028.74 L208.75,1028.74 L209.72,1028.74 L210.70,1028.74 L211.67,1028.74 L212.64,1028.74 L213.62,1028.74 L214.59,1028.74 L215.56,1028.74 L216.53,1028.74 L217.51,1028.74 L218.48,1028.74 L219.45,1028.74 L220.43,1028.74 L221.40,1028.74 L222.37,1028.74 L223.34,1028.74 L224.32,1028.74 L225.29,1028.74 L226.26,1028.74 L227.24,1028.74 L228.21,1028.74 L229.18,1028.74 L230.15,1028.74 L231.13,1028.74 L232.10,1028.74 L233.07,1028.74 L234.05,1028.74 L235.02,1028.74 L235.99,1028.74 L236.96,1028.74 L237.94,1028.73 L238.91,1028.73 L239.88,1028.73 L240.86,1028.73 L241.83,1028.72 L242.80,1028.71 L243.77,1028.71 L244.75,1028.70 L245.72,1028.69 L246.69,1028.68 L247.67,1028.66 L248.64,1028.64 L249.61,1028.62 L250.58,1028.60 L251.56,1028.57 L252.53,1028.53 L253.50,1028.49 L254.47,1028.44 L255.45,1028.38 L256.42,1028.32 L257.39,1028.24 L258.37,1028.14 L259.34,1028.04 L260.31,1027.91 L261.28,1027.77 L262.26,1027.61 L263.23,1027.42 L264.20,1027.21 L265.18,1026.96 L266.15,1026.69 L267.12,1026.37 L268.09,1026.02 L269.07,1025.62 L270.04,1025.18 L271.01,1024.68 L271.99,1024.12 L272.96,1023.51 L273.93,1022.83 L274.90,1022.08 L275.88,1021.25 L276.85,1020.35 L277.82,1019.36 L278.80,1018.28 L279.77,1017.12 L280.74,1015.86 L281.71,1014.50 L282.69,1013.05 L283.66,1011.49 L284.63,1009.84 L285.61,1008.08 L286.58,1006.22 L287.55,1004.26 L288.52,1002.20 L289.50,1000.05 L290.47,997.82 L291.44,995.50 L292.42,993.10 L293.39,990.64 L294.36,988.12 L295.33,985.56 L296.31,982.96 L297.28,980.34 L298.25,977.71 L299.22,975.09 L300.20,972.49 L301.17,969.92 L302.14,967.41 L303.12,964.97 L304.09,962.62 L305.06,960.37 L306.03,958.24 L307.01,956.24 L307.98,954.40 L308.95,952.72 L309.93,951.21 L310.90,949.90 L311.87,948.78 L312.84,947.87 L313.82,947.18 L314.79,946.72 L315.76,946.47 L316.74,946.46 L317.71,946.63 L318.68,947.00 L319.65,947.56 L320.63,948.29 L321.60,949.21 L322.57,950.29 L323.55,951.54 L324.52,952.95 L325.49,954.50 L326.46,956.19 L327.44,958.01 L328.41,959.94 L329.38,961.97 L330.36,964.09 L331.33,966.28 L332.30,968.55 L333.27,970.86 L334.25,973.22 L335.22,975.60 L336.19,978.00 L337.16,980.40 L338.14,982.79 L339.11,985.17 L340.08,987.52 L341.06,989.83 L342.03,992.10 L343.00,994.32 L343.97,996.47 L344.95,998.57 L345.92,1000.59 L346.89,1002.53 L347.87,1004.40 L348.84,1006.19 L349.81,1007.89 L350.78,1009.52 L351.76,1011.05 L352.73,1012.50 L353.70,1013.87 L354.68,1015.15 L355.65,1016.35 L356.62,1017.47 L357.59,1018.52 L358.57,1019.48 L359.54,1020.38 L360.51,1021.21 L361.49,1021.97 L362.46,1022.66 L363.43,1023.30 L364.40,1023.89 L365.38,1024.42 L366.35,1024.90 L367.32,1025.33 L368.30,1025.73 L369.27,1026.08 L370.24,1026.40 L371.21,1026.69 L372.19,1026.94 L373.16,1027.17 L374.13,1027.37 L375.11,1027.55 L376.08,1027.70 L377.05,1027.84 L378.02,1027.97 L379.00,1028.07 L379.97,1028.17 L380.94,1028.25 L381.91,1028.32 L382.89,1028.38 L383.86,1028.44 L384.83,1028.48 L385.81,1028.52 L386.78,1028.56 L387.75,1028.59 L388.72,1028.61 L389.70,1028.63 L390.67,1028.65 L391.64,1028.67 L392.62,1028.68 L393.59,1028.69 L394.56,1028.70 L395.53,1028.71 L396.51,1028.71 L397.48,1028.72 L398.45,1028.72 L399.43,1028.73 L400.40,1028.73 L401.37,1028.73 L402.34,1028.74 L403.32,1028.74 L404.29,1028.74 L405.26,1028.74 L406.24,1028.74 L407.21,1028.74 L408.18,1028.74 L409.15,1028.74 L410.13,1028.74 L411.10,1028.74 L412.07,1028.74 L413.05,1028.74 L414.02,1028.74 L414.99,1028.74 L415.96,1028.74 L416.94,1028.74 L417.91,1028.74 L418.88,1028.74 L419.86,1028.74 L420.83,1028.74 L421.80,1028.74 L422.77,1028.74 L423.75,1028.74 L424.72,1028.74 L425.69,1028.74 L426.66,1028.74 L427.64,1028.74 L428.61,1028.74 L429.58,1028.74 L430.56,1028.74 L431.53,1028.74 L432.50,1028.74 L433.47,1028.74 L434.45,1028.74 L435.42,1028.74 L436.39,1028.74 L437.37,1028.74 L438.34,1028.74 L439.31,1028.74 L440.28,1028.74 L441.26,1028.74 L442.23,1028.74 L443.20,1028.74 L444.18,1028.74 L445.15,1028.74 L446.12,1028.74 L447.09,1028.74 L448.07,1028.74 L449.04,1028.74 L450.01,1028.74 L450.99,1028.74 L451.96,1028.74 L452.93,1028.74 L453.90,1028.74 L454.88,1028.74 L455.85,1028.74 L456.82,1028.74 L457.80,1028.74 L458.77,1028.74 L459.74,1028.74 L460.71,1028.74 L461.69,1028.74 L462.66,1028.74 L463.63,1028.74 L464.61,1028.74 L465.58,1028.74 L466.55,1028.74 L467.52,1028.74 L468.50,1028.74 L469.47,1028.74 L470.44,1028.74 L471.41,1028.74 L472.39,1028.74 L473.36,1028.74 L474.33,1028.74 L475.31,1028.74 L476.28,1028.74 L477.25,1028.74 L478.22,1028.74 L479.20,1028.74 L480.17,1028.74 L481.14,1028.74 L482.12,1028.74 L483.09,1028.74 L484.06,1028.74 L485.03,1028.74 L486.01,1028.74 L486.98,1028.74 L487.95,1028.74 L488.93,1028.74 L489.90,1028.74 L490.87,1028.74 L491.84,1028.74 L492.82,1028.74 L493.79,1028.74 L494.76,1028.74 L495.74,1028.74 L496.71,1028.74 L497.68,1028.74 L498.65,1028.74 L499.63,1028.74 L500.60,1028.74 L501.57,1028.74 L502.55,1028.74 L503.52,1028.74 L504.49,1028.74 L505.46,1028.74 L506.44,1028.74 L507.41,1028.74 L508.38,1028.74 L509.35,1028.74 L510.33,1028.74 L511.30,1028.74 L512.27,1028.74 L513.25,1028.74 L514.22,1028.74 L515.19,1028.74 L516.16,1028.74 L517.14,1028.74 L518.11,1028.74 L519.08,1028.74 L520.06,1028.74 L521.03,1028.74 L522.00,1028.74 L522.97,1028.74 L523.95,1028.74 L524.92,1028.74 L525.89,1028.74 L526.87,1028.74 L527.84,1028.74 L528.81,1028.74 L529.78,1028.74 L530.76,1028.74 L531.73,1028.74 L532.70,1028.74 L533.68,1028.74 L534.65,1028.74 L535.62,1028.74 L536.59,1028.74 L537.57,1028.74 L538.54,1028.74 L539.51,1028.74 L540.49,1028.74 L541.46,1028.74 L542.43,1028.74 L543.40,1028.74 L544.38,1028.74 L545.35,1028.74 L546.32,1028.74 L547.30,1028.74 L548.27,1028.74 L549.24,1028.74 L550.21,1028.74 L551.19,1028.74 L552.16,1028.74 L553.13,1028.74 L554.10,1028.74 L555.08,1028.74 L556.05,1028.74 L557.02,1028.74 L558.00,1028.74 L558.97,1028.74 L559.94,1028.74 L560.91,1028.74 L561.89,1028.74 L562.86,1028.74 L563.83,1028.74 L564.81,1028.74 L565.78,1028.74 L566.75,1028.74 L567.72,1028.74 L568.70,1028.74 L569.67,1028.74 L570.64,1028.74 L571.62,1028.74 L572.59,1028.74 L573.56,1028.74 L574.53,1028.74 L575.51,1028.74 L576.48,1028.74 L577.45,1028.74 L578.43,1028.74 L579.40,1028.74 L580.37,1028.74 L581.34,1028.74 L582.32,1028.74 L583.29,1028.74 L584.26,1028.74 L585.24,1028.74 L586.21,1028.74 L587.18,1028.74 L588.15,1028.74 L589.13,1028.74 L590.10,1028.74 L591.07,1028.74 L592.05,1028.74 L593.02,1028.74 L593.99,1028.74 L594.96,1028.74 L595.94,1028.74 L596.91,1028.74 L597.88,1028.74 L598.85,1028.74 L599.83,1028.74 L600.80,1028.74 L601.77,1028.74 L602.75,1028.74 L603.72,1028.74 L604.69,1028.74 L605.66,1028.74 L606.64,1028.74 L607.61,1028.74 L608.58,1028.74 L609.56,1028.74 L610.53,1028.74 L611.50,1028.74 L612.47,1028.74 L613.45,1028.74 L614.42,1028.74 L615.39,1028.74 L616.37,1028.74 L617.34,1028.74 L618.31,1028.74 L619.28,1028.74 L620.26,1028.74 L621.23,1028.74 L622.20,1028.74 L623.18,1028.74 L624.15,1028.74 L625.12,1028.74 L626.09,1028.74 L627.07,1028.74 L628.04,1028.74" stroke="#27a35c" stroke-width="1.9" fill="none"/>
<path d="M142.60,1028.74 L143.57,1028.74 L144.55,1028.74 L145.52,1028.74 L146.49,1028.74 L147.46,1028.74 L148.44,1028.74 L149.41,1028.74 L150.38,1028.74 L151.36,1028.74 L152.33,1028.74 L153.30,1028.74 L154.27,1028.74 L155.25,1028.74 L156.22,1028.74 L157.19,1028.74 L158.17,1028.74 L159.14,1028.74 L160.11,1028.74 L161.08,1028.74 L162.06,1028.74 L163.03,1028.74 L164.00,1028.74 L164.97,1028.74 L165.95,1028.74 L166.92,1028.74 L167.89,1028.74 L168.87,1028.74 L169.84,1028.74 L170.81,1028.74 L171.78,1028.74 L172.76,1028.74 L173.73,1028.74 L174.70,1028.74 L175.68,1028.74 L176.65,1028.74 L177.62,1028.74 L178.59,1028.74 L179.57,1028.74 L180.54,1028.74 L181.51,1028.74 L182.49,1028.74 L183.46,1028.74 L184.43,1028.74 L185.40,1028.74 L186.38,1028.74 L187.35,1028.74 L188.32,1028.74 L189.30,1028.74 L190.27,1028.74 L191.24,1028.74 L192.21,1028.74 L193.19,1028.74 L194.16,1028.74 L195.13,1028.74 L196.11,1028.74 L197.08,1028.74 L198.05,1028.74 L199.02,1028.74 L200.00,1028.74 L200.97,1028.74 L201.94,1028.74 L202.92,1028.74 L203.89,1028.74 L204.86,1028.74 L205.83,1028.74 L206.81,1028.74 L207.78,1028.74 L208.75,1028.74 L209.72,1028.74 L210.70,1028.74 L211.67,1028.74 L212.64,1028.74 L213.62,1028.74 L214.59,1028.74 L215.56,1028.74 L216.53,1028.74 L217.51,1028.74 L218.48,1028.74 L219.45,1028.74 L220.43,1028.74 L221.40,1028.74 L222.37,1028.74 L223.34,1028.74 L224.32,1028.74 L225.29,1028.74 L226.26,1028.74 L227.24,1028.74 L228.21,1028.74 L229.18,1028.74 L230.15,1028.74 L231.13,1028.74 L232.10,1028.74 L233.07,1028.74 L234.05,1028.74 L235.02,1028.74 L235.99,1028.74 L236.96,1028.74 L237.94,1028.74 L238.91,1028.74 L239.88,1028.74 L240.86,1028.74 L241.83,1028.74 L242.80,1028.74 L243.77,1028.74 L244.75,1028.74 L245.72,1028.74 L246.69,1028.74 L247.67,1028.74 L248.64,1028.74 L249.61,1028.74 L250.58,1028.74 L251.56,1028.74 L252.53,1028.74 L253.50,1028.74 L254.47,1028.74 L255.45,1028.74 L256.42,1028.74 L257.39,1028.74 L258.37,1028.74 L259.34,1028.74 L260.31,1028.74 L261.28,1028.74 L262.26,1028.74 L263.23,1028.74 L264.20,1028.74 L265.18,1028.74 L266.15,1028.74 L267.12,1028.74 L268.09,1028.74 L269.07,1028.74 L270.04,1028.74 L271.01,1028.74 L271.99,1028.74 L272.96,1028.74 L273.93,1028.74 L274.90,1028.74 L275.88,1028.74 L276.85,1028.74 L277.82,1028.74 L278.80,1028.74 L279.77,1028.74 L280.74,1028.74 L281.71,1028.74 L282.69,1028.74 L283.66,1028.74 L284.63,1028.74 L285.61,1028.74 L286.58,1028.74 L287.55,1028.74 L288.52,1028.74 L289.50,1028.74 L290.47,1028.74 L291.44,1028.73 L292.42,1028.73 L293.39,1028.73 L294.36,1028.72 L295.33,1028.72 L296.31,1028.71 L297.28,1028.71 L298.25,1028.70 L299.22,1028.69 L300.20,1028.68 L301.17,1028.66 L302.14,1028.65 L303.12,1028.63 L304.09,1028.60 L305.06,1028.57 L306.03,1028.54 L307.01,1028.50 L307.98,1028.45 L308.95,1028.40 L309.93,1028.33 L310.90,1028.26 L311.87,1028.17 L312.84,1028.07 L313.82,1027.95 L314.79,1027.81 L315.76,1027.66 L316.74,1027.48 L317.71,1027.27 L318.68,1027.03 L319.65,1026.77 L320.63,1026.46 L321.60,1026.12 L322.57,1025.73 L323.55,1025.29 L324.52,1024.80 L325.49,1024.24 L326.46,1023.63 L327.44,1022.94 L328.41,1022.18 L329.38,1021.33 L330.36,1020.40 L331.33,1019.37 L332.30,1018.24 L333.27,1017.01 L334.25,1015.66 L335.22,1014.20 L336.19,1012.61 L337.16,1010.89 L338.14,1009.03 L339.11,1007.04 L340.08,1004.91 L341.06,1002.62 L342.03,1000.19 L343.00,997.62 L343.97,994.89 L344.95,992.01 L345.92,988.99 L346.89,985.82 L347.87,982.52 L348.84,979.09 L349.81,975.53 L350.78,971.85 L351.76,968.08 L352.73,964.21 L353.70,960.26 L354.68,956.25 L355.65,952.20 L356.62,948.12 L357.59,944.03 L358.57,939.95 L359.54,935.90 L360.51,931.91 L361.49,928.00 L362.46,924.18 L363.43,920.49 L364.40,916.95 L365.38,913.57 L366.35,910.38 L367.32,907.41 L368.30,904.66 L369.27,902.17 L370.24,899.94 L371.21,898.00 L372.19,896.35 L373.16,895.02 L374.13,894.00 L375.11,893.31 L376.08,892.95 L377.05,892.92 L378.02,893.19 L379.00,893.73 L379.97,894.55 L380.94,895.64 L381.91,896.99 L382.89,898.61 L383.86,900.47 L384.83,902.56 L385.81,904.88 L386.78,907.41 L387.75,910.14 L388.72,913.04 L389.70,916.11 L390.67,919.32 L391.64,922.67 L392.62,926.12 L393.59,929.67 L394.56,933.29 L395.53,936.97 L396.51,940.70 L397.48,944.44 L398.45,948.20 L399.43,951.95 L400.40,955.67 L401.37,959.36 L402.34,963.00 L403.32,966.58 L404.29,970.09 L405.26,973.51 L406.24,976.84 L407.21,980.07 L408.18,983.20 L409.15,986.21 L410.13,989.10 L411.10,991.88 L412.07,994.53 L413.05,997.06 L414.02,999.46 L414.99,1001.74 L415.96,1003.89 L416.94,1005.92 L417.91,1007.82 L418.88,1009.61 L419.86,1011.28 L420.83,1012.83 L421.80,1014.28 L422.77,1015.63 L423.75,1016.87 L424.72,1018.02 L425.69,1019.08 L426.66,1020.05 L427.64,1020.94 L428.61,1021.75 L429.58,1022.49 L430.56,1023.17 L431.53,1023.78 L432.50,1024.33 L433.47,1024.83 L434.45,1025.28 L435.42,1025.69 L436.39,1026.05 L437.37,1026.38 L438.34,1026.67 L439.31,1026.93 L440.28,1027.16 L441.26,1027.36 L442.23,1027.54 L443.20,1027.70 L444.18,1027.84 L445.15,1027.96 L446.12,1028.07 L447.09,1028.16 L448.07,1028.24 L449.04,1028.32 L450.01,1028.38 L450.99,1028.43 L451.96,1028.48 L452.93,1028.52 L453.90,1028.55 L454.88,1028.58 L455.85,1028.61 L456.82,1028.63 L457.80,1028.65 L458.77,1028.66 L459.74,1028.68 L460.71,1028.69 L461.69,1028.70 L462.66,1028.70 L463.63,1028.71 L464.61,1028.72 L465.58,1028.72 L466.55,1028.73 L467.52,1028.73 L468.50,1028.73 L469.47,1028.73 L470.44,1028.74 L471.41,1028.74 L472.39,1028.74 L473.36,1028.74 L474.33,1028.74 L475.31,1028.74 L476.28,1028.74 L477.25,1028.74 L478.22,1028.74 L479.20,1028.74 L480.17,1028.74 L481.14,1028.74 L482.12,1028.74 L483.09,1028.74 L484.06,1028.74 L485.03,1028.74 L486.01,1028.74 L486.98,1028.74 L487.95,1028.74 L488.93,1028.74 L489.90,1028.74 L490.87,1028.74 L491.84,1028.74 L492.82,1028.74 L493.79,1028.74 L494.76,1028.74 L495.74,1028.74 L496.71,1028.74 L497.68,1028.74 L498.65,1028.74 L499.63,1028.74 L500.60,1028.74 L501.57,1028.74 L502.55,1028.74 L503.52,1028.74 L504.49,1028.74 L505.46,1028.74 L506.44,1028.74 L507.41,1028.74 L508.38,1028.74 L509.35,1028.74 L510.33,1028.74 L511.30,1028.74 L512.27,1028.74 L513.25,1028.74 L514.22,1028.74 L515.19,1028.74 L516.16,1028.74 L517.14,1028.74 L518.11,1028.74 L519.08,1028.74 L520.06,1028.74 L521.03,1028.74 L522.00,1028.74 L522.97,1028.74 L523.95,1028.74 L524.92,1028.74 L525.89,1028.74 L526.87,1028.74 L527.84,1028.74 L528.81,1028.74 L529.78,1028.74 L530.76,1028.74 L531.73,1028.74 L532.70,1028.74 L533.68,1028.74 L534.65,1028.74 L535.62,1028.74 L536.59,1028.74 L537.57,1028.74 L538.54,1028.74 L539.51,1028.74 L540.49,1028.74 L541.46,1028.74 L542.43,1028.74 L543.40,1028.74 L544.38,1028.74 L545.35,1028.74 L546.32,1028.74 L547.30,1028.74 L548.27,1028.74 L549.24,1028.74 L550.21,1028.74 L551.19,1028.74 L552.16,1028.74 L553.13,1028.74 L554.10,1028.74 L555.08,1028.74 L556.05,1028.74 L557.02,1028.74 L558.00,1028.74 L558.97,1028.74 L559.94,1028.74 L560.91,1028.74 L561.89,1028.74 L562.86,1028.74 L563.83,1028.74 L564.81,1028.74 L565.78,1028.74 L566.75,1028.74 L567.72,1028.74 L568.70,1028.74 L569.67,1028.74 L570.64,1028.74 L571.62,1028.74 L572.59,1028.74 L573.56,1028.74 L574.53,1028.74 L575.51,1028.74 L576.48,1028.74 L577.45,1028.74 L578.43,1028.74 L579.40,1028.74 L580.37,1028.74 L581.34,1028.74 L582.32,1028.74 L583.29,1028.74 L584.26,1028.74 L585.24,1028.74 L586.21,1028.74 L587.18,1028.74 L588.15,1028.74 L589.13,1028.74 L590.10,1028.74 L591.07,1028.74 L592.05,1028.74 L593.02,1028.74 L593.99,1028.74 L594.96,1028.74 L595.94,1028.74 L596.91,1028.74 L597.88,1028.74 L598.85,1028.74 L599.83,1028.74 L600.80,1028.74 L601.77,1028.74 L602.75,1028.74 L603.72,1028.74 L604.69,1028.74 L605.66,1028.74 L606.64,1028.74 L607.61,1028.74 L608.58,1028.74 L609.56,1028.74 L610.53,1028.74 L611.50,1028.74 L612.47,1028.74 L613.45,1028.74 L614.42,1028.74 L615.39,1028.74 L616.37,1028.74 L617.34,1028.74 L618.31,1028.74 L619.28,1028.74 L620.26,1028.74 L621.23,1028.74 L622.20,1028.74 L623.18,1028.74 L624.15,1028.74 L625.12,1028.74 L626.09,1028.74 L627.07,1028.74 L628.04,1028.74" stroke="#a970dd" stroke-width="1.9" fill="none"/>
<line x1="90.8" x2="137.8" y1="596.80" y2="596.80" stroke="#27a35c" stroke-width="1.9"/>
<text transform="translate(143.20,603.50) scale(1,1.04)" font-size="20.6" text-anchor="start" fill="#27a35c">Alloy@C (50% PVA)</text>
<line x1="90.8" x2="137.8" y1="621.90" y2="621.90" stroke="#a970dd" stroke-width="1.9"/>
<text transform="translate(143.20,628.30) scale(1,1.04)" font-size="20.6" text-anchor="start" fill="#a970dd">Alloy@C (66% PVA)</text>
<text transform="translate(633.40,611.90) scale(1,1.03)" font-size="27.7" text-anchor="start" fill="#111">(b)</text>
<text transform="translate(381.70,1128.50) scale(1,1.03)" font-size="20.4" text-anchor="middle" fill="#111">Pore width (nm)</text>
<text transform="translate(17.60,821.00) rotate(-90)" font-size="20.9" text-anchor="middle" fill="#111">dVp (-)</text>
</svg></body></html>
